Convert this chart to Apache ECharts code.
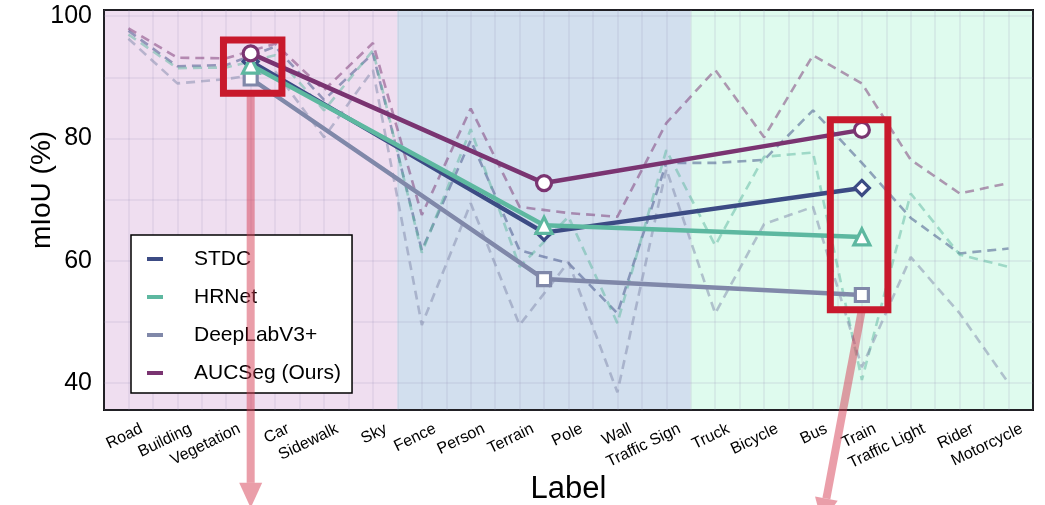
<!DOCTYPE html>
<html><head><meta charset="utf-8">
<script src="https://cdn.jsdelivr.net/npm/echarts@6/dist/echarts.min.js"></script>
<style>html,body{margin:0;padding:0;background:#fff}#c{width:1045px;height:505px}</style>
</head><body><div id="c"></div>
<script>
// ---------------- data ----------------
const categories = ['Road','Building','Vegetation','Car','Sidewalk','Sky','Fence','Person','Terrain','Pole','Wall','Traffic Sign','Truck','Bicycle','Bus','Train','Traffic Light','Rider','Motorcycle'];
const seriesNames = ['STDC','HRNet','DeepLabV3+','AUCSeg (Ours)'];
const stdcValues    = [97.6, 91.8, 92.0, 95.0, 86.3, 93.9, 61.7, 79.7, 61.7, 59.6, 51.4, 76.0, 76.0, 76.5, 84.6, 76.0, 67.0, 61.2, 62.0];
const hrnetValues   = [97.0, 91.5, 91.6, 93.6, 84.6, 94.4, 61.3, 81.5, 59.0, 67.2, 49.8, 78.1, 62.5, 77.0, 77.7, 40.5, 71.0, 61.0, 59.0];
const deeplabValues = [96.3, 89.0, 89.7, 91.0, 80.2, 91.2, 49.5, 69.4, 49.5, 59.8, 38.5, 75.0, 51.4, 66.0, 68.8, 42.6, 60.6, 51.4, 40.0];
const aucsegValues  = [98.0, 93.2, 93.1, 95.5, 87.9, 95.6, 67.5, 84.9, 68.8, 67.8, 67.2, 82.5, 91.2, 80.2, 93.6, 89.0, 76.5, 71.0, 72.7];
// group (head / body / tail) means
const groupRanges = [[0,5],[6,11],[12,18]];
const stdcMeans    = [92.6, 64.6, 71.9];
const hrnetMeans   = [92.0, 65.8, 63.9];
const deeplabMeans = [89.8, 57.0, 54.4];
const aucsegMeans  = [93.9, 72.7, 81.4];
const yTickLabels = [40, 60, 80, 100];

// ---------------- style ----------------
const FONT = '"Liberation Sans", Arial, Helvetica, sans-serif';
const colors = ['#3c4b84', '#5db8a0', '#8088a9', '#7a3471'];
const symbols = ['diamond', 'triangle', 'rect', 'circle'];
const symbolSizes = [15, 16, 13, 15];
const bandColors = ['#efdef0', '#d2dfee', '#dffbee'];
const labelShift = 0.27;

const allValues = [stdcValues, hrnetValues, deeplabValues, aucsegValues];
const allMeans = [stdcMeans, hrnetMeans, deeplabMeans, aucsegMeans];
const centers = groupRanges.map(r => (r[0] + r[1]) / 2);

const chart = echarts.init(document.getElementById('c'), null, {renderer: 'canvas'});

const series = [];
// background bands
series.push({
  type: 'line', xAxisIndex: 1, yAxisIndex: 0, data: [], silent: true, z: -5,
  markArea: {
    silent: true, z: -5,
    data: groupRanges.map((r, i) => [
      {xAxis: r[0] - 0.5, itemStyle: {color: bandColors[i], opacity: 1}},
      {xAxis: r[1] + 0.5}
    ])
  }
});
// dashed per-class lines
allValues.forEach((vals, i) => {
  series.push({
    name: seriesNames[i], type: 'line', xAxisIndex: 0, yAxisIndex: 0,
    data: vals, symbol: 'none', z: 2, silent: true,
    lineStyle: {color: colors[i], width: 2.6, type: [9, 6], opacity: 0.5},
    itemStyle: {color: colors[i]}
  });
});
// solid group-mean lines
const zOrder = [3, 5, 4, 6];
allMeans.forEach((m, i) => {
  series.push({
    name: seriesNames[i], type: 'line', xAxisIndex: 1, yAxisIndex: 0,
    data: centers.map((c, k) => [c, m[k]]),
    symbol: symbols[i], symbolSize: symbolSizes[i], showAllSymbol: true, z: zOrder[i], silent: true,
    lineStyle: {color: colors[i], width: 4.5},
    itemStyle: {color: '#ffffff', borderColor: colors[i], borderWidth: 3.2}
  });
});

const gridLine = {show: true, lineStyle: {color: 'rgba(150,140,180,0.13)', width: 2}};
const option = {
  animation: false,
  textStyle: {fontFamily: FONT},
  grid: {left: 104, right: 12, top: 10, bottom: 95, show: true, borderColor: '#111', borderWidth: 2,
         backgroundColor: 'transparent', containLabel: false, outerBoundsMode: 'none'},
  xAxis: [
    {type: 'category', data: categories, boundaryGap: true, show: false},
    {
      type: 'value', min: -0.5, max: categories.length - 0.5, interval: 0.5, position: 'bottom',
      axisLine: {show: false}, axisTick: {show: false},
      splitLine: gridLine,
      axisLabel: {
        customValues: categories.map((_, i) => i + labelShift),
        rotate: 26, fontSize: 16, color: '#000', margin: 18, fontFamily: FONT,
        formatter: v => {
          const idx = Math.round(v - labelShift);
          return Math.abs(v - labelShift - idx) < 1e-6 && categories[idx] ? categories[idx] : '';
        }
      },
      name: 'Label', nameLocation: 'middle', nameGap: 64, nameMoveOverlap: false,
      nameTextStyle: {fontSize: 31, color: '#000', fontFamily: FONT}
    }
  ],
  yAxis: {
    type: 'value', min: 35.6, max: 101, minInterval: 10, maxInterval: 10,
    axisLine: {show: false}, axisTick: {show: false},
    splitLine: gridLine,
    axisLabel: {
      fontSize: 25, color: '#000', margin: 12, fontFamily: FONT,
      formatter: v => yTickLabels.some(t => Math.abs(t - v) < 1e-6) ? String(Math.round(v)) : ''
    },
    name: 'mIoU (%)', nameLocation: 'middle', nameGap: 48, nameMoveOverlap: false,
    nameTextStyle: {fontSize: 28, color: '#000', fontFamily: FONT, padding: [0, 0, 0, 40]}
  },
  legend: {
    orient: 'vertical', left: 131, top: 235, selectedMode: false,
    data: seriesNames.map((n, i) => ({name: n, itemStyle: {color: colors[i], borderWidth: 0, opacity: 1}})),
    icon: 'path://M0,0H16V4H0Z',
    itemWidth: 16, itemHeight: 4, itemGap: 16,
    textStyle: {fontSize: 21, color: '#000', fontFamily: FONT, lineHeight: 22, padding: [0, 0, 0, 26]},
    backgroundColor: '#ffffff', borderColor: '#000', borderWidth: 1.5, borderRadius: 0,
    padding: [13, 11, 9, 16], z: 10
  },
  series: series
};
chart.setOption(option);

// ---------------- annotations (red boxes + pink arrows), in data coordinates ----------------
const boxes = [
  {x: [1.943, 3.139], y: [87.4, 96.1]},
  {x: [14.355, 15.532], y: [52.0, 83.07]}
];
const arrows = [
  {from: [2.5, 87.4], to: [2.5, 19.6]},
  {from: [15.0, 52.0], to: [14.18, 17.1]}
];
const px = p => chart.convertToPixel({xAxisIndex: 1, yAxisIndex: 0}, p);
const graphics = [];
arrows.forEach(a => {
  const s = px(a.from), e = px(a.to);
  const dx = e[0] - s[0], dy = e[1] - s[1];
  const len = Math.hypot(dx, dy), ux = dx / len, uy = dy / len;
  const headLen = 25, headHalf = 11.5;
  const bx = e[0] - ux * headLen, by = e[1] - uy * headLen;
  graphics.push({
    type: 'line', z: 100, silent: true,
    shape: {x1: s[0], y1: s[1], x2: bx, y2: by},
    style: {stroke: 'rgba(214,62,84,0.5)', lineWidth: 8}
  });
  graphics.push({
    type: 'polygon', z: 100, silent: true,
    shape: {points: [[e[0], e[1]], [bx - uy * headHalf, by + ux * headHalf], [bx + uy * headHalf, by - ux * headHalf]]},
    style: {fill: 'rgba(214,62,84,0.5)'}
  });
});
boxes.forEach(b => {
  const p1 = px([b.x[0], b.y[1]]), p2 = px([b.x[1], b.y[0]]);
  graphics.push({
    type: 'rect', z: 101, silent: true,
    shape: {x: p1[0], y: p1[1], width: p2[0] - p1[0], height: p2[1] - p1[1]},
    style: {fill: 'none', stroke: '#c8192c', lineWidth: 7}
  });
});
chart.setOption({graphic: graphics});
</script>
</body></html>
